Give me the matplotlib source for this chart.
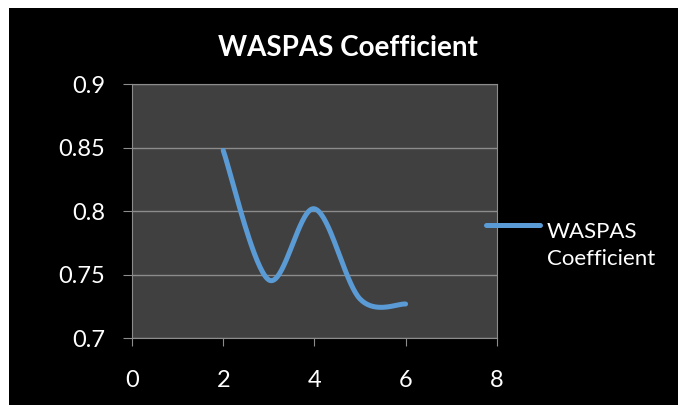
import numpy as np
import matplotlib.pyplot as plt
from matplotlib.patches import Rectangle
from matplotlib.lines import Line2D

plt.rcParams['font.family'] = ['Lato', 'DejaVu Sans']

# datos de la serie
x_vals = [2, 3, 4, 5, 6]
y_vals = [0.848, 0.746, 0.802, 0.731, 0.727]
x_ticks = [0, 2, 4, 6, 8]
y_ticks = [0.7, 0.75, 0.8, 0.85, 0.9]
y_labels = ["0.7", "0.75", "0.8", "0.85", "0.9"]
titulo = "WASPAS Coefficient"
serie = "WASPAS\nCoefficient"
azul = "#5B9BD5"


def suavizar(xs, ys, n=40):
    # curva suavizada tipo Excel (Bezier con tangentes Catmull-Rom)
    p = np.column_stack([xs, ys]).astype(float)
    p = np.vstack([p[0], p, p[-1]])
    out = []
    for i in range(1, len(p) - 2):
        p0, p1, p2, p3 = p[i - 1], p[i], p[i + 1], p[i + 2]
        c1 = p1 + (p2 - p0) / 6
        c2 = p2 - (p3 - p1) / 6
        t = np.linspace(0, 1, n)[:, None]
        seg = ((1 - t) ** 3) * p1 + 3 * ((1 - t) ** 2) * t * c1 + 3 * (1 - t) * t ** 2 * c2 + t ** 3 * p2
        out.append(seg if i == 1 else seg[1:])
    out = np.vstack(out)
    return out[:, 0], out[:, 1]


fig = plt.figure(figsize=(6.78, 4.05), dpi=100, facecolor="white")
fig.add_artist(Rectangle((9 / 678, 0), 1, 1 - 8 / 405, transform=fig.transFigure,
                         facecolor="black", edgecolor="none", zorder=0))

ax = fig.add_axes([0.1947, 0.1647, 0.538, 0.627])
ax.set_facecolor("#404040")

xs, ys = suavizar(x_vals, y_vals)
ax.plot(xs, ys, color=azul, lw=3.6, solid_capstyle="round")

ax.set_xlim(0, 8)
ax.set_ylim(0.7, 0.9)
ax.set_xticks(x_ticks)
ax.set_xticklabels([str(v) for v in x_ticks])
ax.set_yticks(y_ticks)
ax.set_yticklabels(y_labels)
ax.yaxis.grid(True, color="#8c8c8c", lw=1)
ax.set_axisbelow(True)
for s in ax.spines.values():
    s.set_color("#8c8c8c")
ax.tick_params(axis="y", colors="#8c8c8c", labelcolor="white", labelsize=17, length=6.5, pad=13)
ax.tick_params(axis="x", colors="#8c8c8c", labelcolor="white", labelsize=17, length=6, pad=17)

fig.text(0.513, 0.881, titulo, color="white", fontsize=20, fontweight="bold",
         ha="center", va="center")

# leyenda a mano (linea + texto en dos lineas)
fig.add_artist(Line2D([486 / 678, 540 / 678], [1 - 225 / 405] * 2, transform=fig.transFigure,
                      color=azul, lw=3.6, solid_capstyle="round"))
fig.text(547 / 678, 1 - 265 / 405, serie, color="white", fontsize=16,
         ha="left", va="baseline", linespacing=1.45)

fig.savefig("out.png", dpi=100, facecolor="white")
